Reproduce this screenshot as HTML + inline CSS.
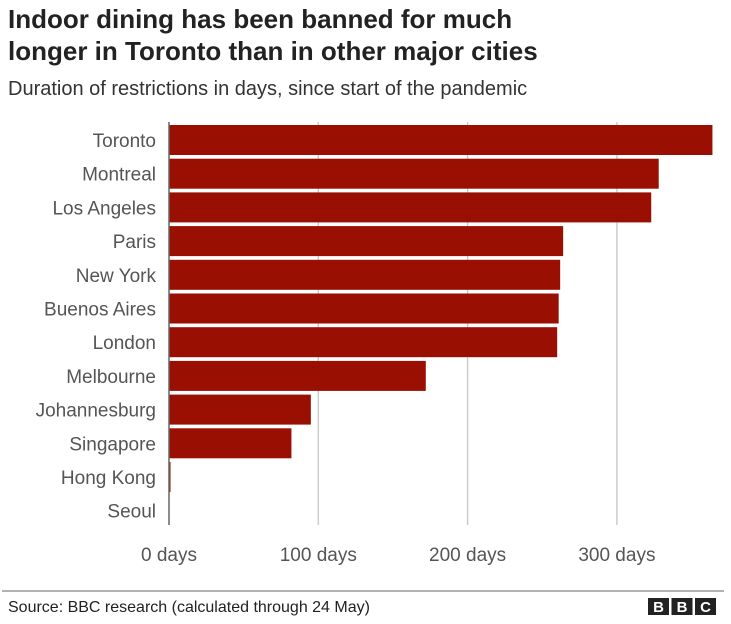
<!DOCTYPE html>
<html><head><meta charset="utf-8"><style>
body{margin:0;background:#fff;font-family:"Liberation Sans",sans-serif;}
#c{position:relative;width:731px;height:624px;overflow:hidden}
.t{position:absolute;left:8px;font-size:26px;font-weight:bold;color:#222;line-height:32px}
.s{position:absolute;left:8px;top:78px;font-size:20px;color:#333}
</style></head><body>
<div id="c">
<div class="t" style="top:3px">Indoor dining has been banned for much<br>longer in Toronto than in other major cities</div>
<div class="s">Duration of restrictions in days, since start of the pandemic</div>
<svg id="svg" width="731" height="624" style="position:absolute;left:0;top:0"></svg>
</div>
<script>
const cities=["Toronto","Montreal","Los Angeles","Paris","New York","Buenos Aires","London","Melbourne","Johannesburg","Singapore","Hong Kong","Seoul"];
const days=[364,328,323,264,262,261,260,172,95,82,1,0];
const ticks=[0,100,200,300];
const tickLabels=["0 days","100 days","200 days","300 days"];
const NS="http://www.w3.org/2000/svg",svg=document.getElementById('svg');
const x=v=>169+v*1.493, y0=123, pitch=33.7, bh=30;
function el(t,a,txt){const e=document.createElementNS(NS,t);for(const k in a)e.setAttribute(k,a[k]);if(txt!=null)e.textContent=txt;svg.appendChild(e);return e;}
ticks.forEach((t,i)=>{
 if(t>0){const g=el('line',{x1:x(t),x2:x(t),y1:122,y2:525,stroke:'#ccc','stroke-width':1.5});
 
 }
 const l=el('text',{x:x(t),y:561,'text-anchor':'middle','font-size':19,fill:'#555'},tickLabels[i]);
 
 
});
cities.forEach((c,i)=>{
 const yy=y0+i*pitch+2;
 const r=el('rect',{x:169,y:yy,width:Math.max(0,x(days[i])-169),height:bh,fill:'#990f02'});
 
 
 const l=el('text',{x:156,y:yy+bh/2+7,'text-anchor':'end','font-size':19,fill:'#555'},c);
 
 
});
const ax=el('line',{x1:169,x2:169,y1:122,y2:525,stroke:'#666','stroke-width':1.5});


const sl=el('line',{x1:2,x2:724,y1:591,y2:591,stroke:'#666','stroke-width':1});


const src=el('text',{x:8,y:612,'font-size':16,fill:'#222'},"Source: BBC research (calculated through 24 May)");


["B","B","C"].forEach((ch,i)=>{
 const bx=648+i*23.5;
 const b=el('rect',{x:bx,y:598,width:21,height:17,fill:'#222'});
 
 
 const t=el('text',{x:bx+10.5,y:612,'text-anchor':'middle','font-size':15,'font-weight':'bold',fill:'#fff'},ch);
 
 
});
</script>
</body></html>
